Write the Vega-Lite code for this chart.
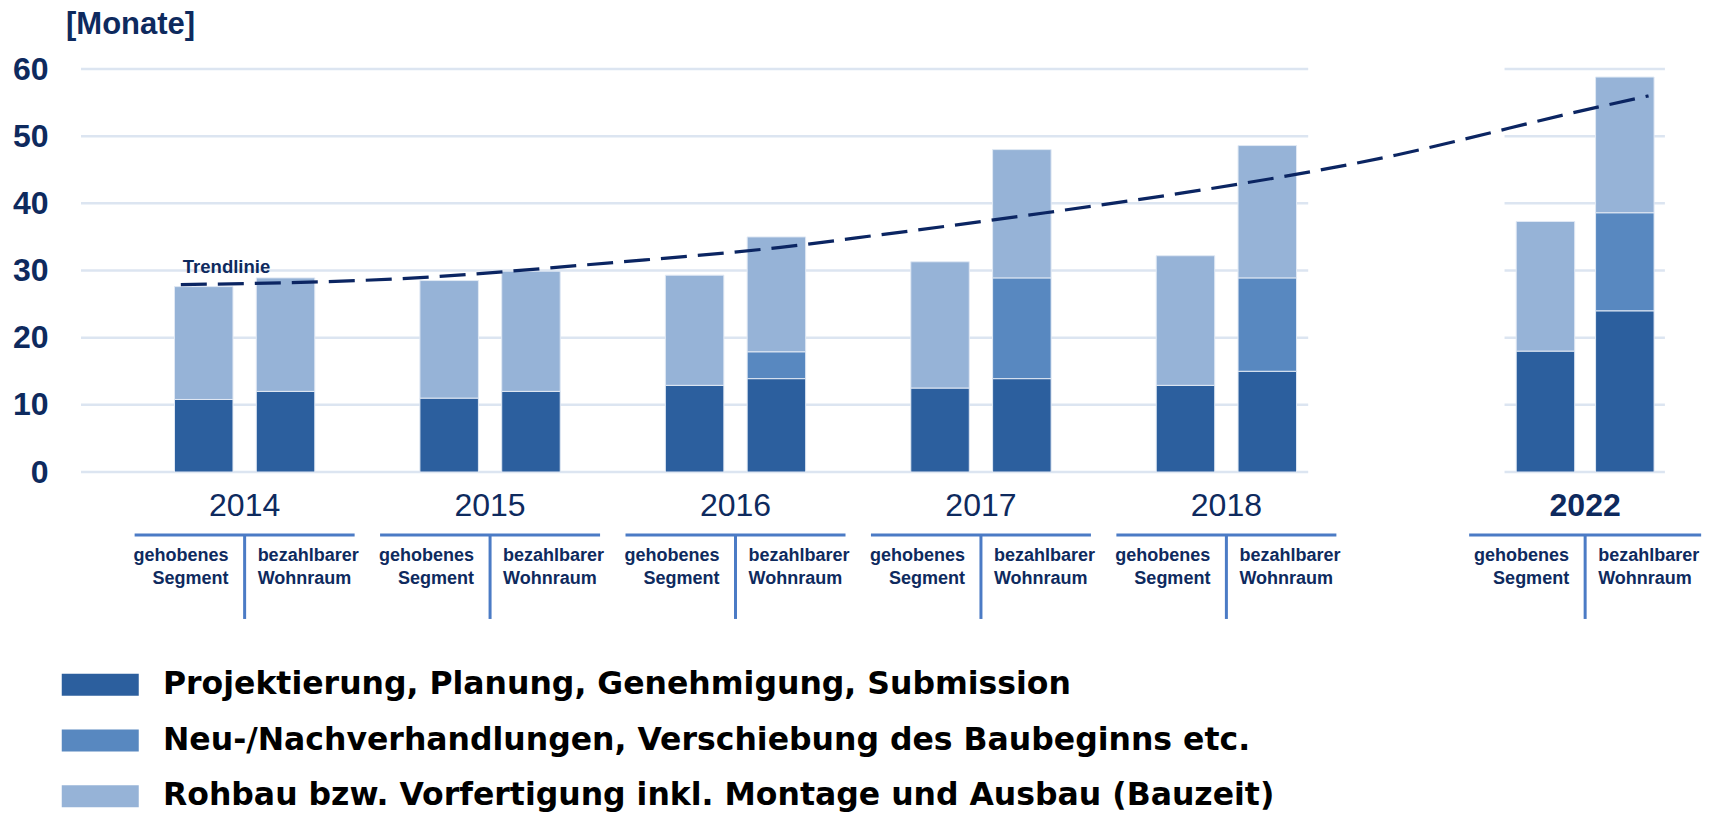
{
  "$schema": "https://vega.github.io/schema/vega-lite/v6.json",
  "width": 1634,
  "height": 403,
  "autosize": {"type": "none"},
  "padding": {"left": 76, "top": 69, "right": 1, "bottom": 341},
  "background": "white",
  "config": {"view": {"stroke": null}, "font": "Liberation Sans"},
  "datasets": {
    "balken": [
      {"jahr": "2014", "segment": "gehobenes Segment", "pos": 0, "phase": "Projektierung, Planung, Genehmigung, Submission", "monate": 10.8},
      {"jahr": "2014", "segment": "gehobenes Segment", "pos": 0, "phase": "Rohbau bzw. Vorfertigung inkl. Montage und Ausbau (Bauzeit)", "monate": 16.8},
      {"jahr": "2014", "segment": "bezahlbarer Wohnraum", "pos": 1, "phase": "Projektierung, Planung, Genehmigung, Submission", "monate": 12},
      {"jahr": "2014", "segment": "bezahlbarer Wohnraum", "pos": 1, "phase": "Rohbau bzw. Vorfertigung inkl. Montage und Ausbau (Bauzeit)", "monate": 16.9},
      {"jahr": "2015", "segment": "gehobenes Segment", "pos": 3, "phase": "Projektierung, Planung, Genehmigung, Submission", "monate": 11},
      {"jahr": "2015", "segment": "gehobenes Segment", "pos": 3, "phase": "Rohbau bzw. Vorfertigung inkl. Montage und Ausbau (Bauzeit)", "monate": 17.5},
      {"jahr": "2015", "segment": "bezahlbarer Wohnraum", "pos": 4, "phase": "Projektierung, Planung, Genehmigung, Submission", "monate": 12},
      {"jahr": "2015", "segment": "bezahlbarer Wohnraum", "pos": 4, "phase": "Rohbau bzw. Vorfertigung inkl. Montage und Ausbau (Bauzeit)", "monate": 17.9},
      {"jahr": "2016", "segment": "gehobenes Segment", "pos": 6, "phase": "Projektierung, Planung, Genehmigung, Submission", "monate": 12.9},
      {"jahr": "2016", "segment": "gehobenes Segment", "pos": 6, "phase": "Rohbau bzw. Vorfertigung inkl. Montage und Ausbau (Bauzeit)", "monate": 16.4},
      {"jahr": "2016", "segment": "bezahlbarer Wohnraum", "pos": 7, "phase": "Projektierung, Planung, Genehmigung, Submission", "monate": 13.9},
      {"jahr": "2016", "segment": "bezahlbarer Wohnraum", "pos": 7, "phase": "Neu-/Nachverhandlungen, Verschiebung des Baubeginns etc.", "monate": 4.0},
      {"jahr": "2016", "segment": "bezahlbarer Wohnraum", "pos": 7, "phase": "Rohbau bzw. Vorfertigung inkl. Montage und Ausbau (Bauzeit)", "monate": 17.1},
      {"jahr": "2017", "segment": "gehobenes Segment", "pos": 9, "phase": "Projektierung, Planung, Genehmigung, Submission", "monate": 12.5},
      {"jahr": "2017", "segment": "gehobenes Segment", "pos": 9, "phase": "Rohbau bzw. Vorfertigung inkl. Montage und Ausbau (Bauzeit)", "monate": 18.8},
      {"jahr": "2017", "segment": "bezahlbarer Wohnraum", "pos": 10, "phase": "Projektierung, Planung, Genehmigung, Submission", "monate": 13.9},
      {"jahr": "2017", "segment": "bezahlbarer Wohnraum", "pos": 10, "phase": "Neu-/Nachverhandlungen, Verschiebung des Baubeginns etc.", "monate": 15.0},
      {"jahr": "2017", "segment": "bezahlbarer Wohnraum", "pos": 10, "phase": "Rohbau bzw. Vorfertigung inkl. Montage und Ausbau (Bauzeit)", "monate": 19.1},
      {"jahr": "2018", "segment": "gehobenes Segment", "pos": 12, "phase": "Projektierung, Planung, Genehmigung, Submission", "monate": 12.9},
      {"jahr": "2018", "segment": "gehobenes Segment", "pos": 12, "phase": "Rohbau bzw. Vorfertigung inkl. Montage und Ausbau (Bauzeit)", "monate": 19.3},
      {"jahr": "2018", "segment": "bezahlbarer Wohnraum", "pos": 13, "phase": "Projektierung, Planung, Genehmigung, Submission", "monate": 15.0},
      {"jahr": "2018", "segment": "bezahlbarer Wohnraum", "pos": 13, "phase": "Neu-/Nachverhandlungen, Verschiebung des Baubeginns etc.", "monate": 13.9},
      {"jahr": "2018", "segment": "bezahlbarer Wohnraum", "pos": 13, "phase": "Rohbau bzw. Vorfertigung inkl. Montage und Ausbau (Bauzeit)", "monate": 19.7},
      {"jahr": "2022", "segment": "gehobenes Segment", "pos": 16.4, "phase": "Projektierung, Planung, Genehmigung, Submission", "monate": 18.0},
      {"jahr": "2022", "segment": "gehobenes Segment", "pos": 16.4, "phase": "Rohbau bzw. Vorfertigung inkl. Montage und Ausbau (Bauzeit)", "monate": 19.3},
      {"jahr": "2022", "segment": "bezahlbarer Wohnraum", "pos": 17.37, "phase": "Projektierung, Planung, Genehmigung, Submission", "monate": 24.0},
      {"jahr": "2022", "segment": "bezahlbarer Wohnraum", "pos": 17.37, "phase": "Neu-/Nachverhandlungen, Verschiebung des Baubeginns etc.", "monate": 14.6},
      {"jahr": "2022", "segment": "bezahlbarer Wohnraum", "pos": 17.37, "phase": "Rohbau bzw. Vorfertigung inkl. Montage und Ausbau (Bauzeit)", "monate": 20.2}
    ],
    "trend": [
      {"pos": -0.28, "monate": 27.9},
      {"pos": 2.43, "monate": 28.8},
      {"pos": 5.02, "monate": 31.2},
      {"pos": 7.05, "monate": 33.45},
      {"pos": 8.26, "monate": 35.3},
      {"pos": 10.29, "monate": 38.6},
      {"pos": 12.31, "monate": 42.2},
      {"pos": 13.75, "monate": 45.2},
      {"pos": 14.58, "monate": 47.2},
      {"pos": 15.39, "monate": 49.5},
      {"pos": 16.6, "monate": 53.1},
      {"pos": 17.66, "monate": 56.0}
    ],
    "jahre": [
      {"jahr": "2014", "mitte": 0.5},
      {"jahr": "2015", "mitte": 3.5},
      {"jahr": "2016", "mitte": 6.5},
      {"jahr": "2017", "mitte": 9.5},
      {"jahr": "2018", "mitte": 12.5},
      {"jahr": "2022", "mitte": 16.885}
    ],
    "gitter": [
      {"wert": 0}, {"wert": 10}, {"wert": 20}, {"wert": 30}, {"wert": 40}, {"wert": 50}, {"wert": 60}
    ]
  },
  "layer": [
    {
      "data": {"name": "gitter"},
      "mark": {"type": "rule", "color": "#DCE5F1", "strokeWidth": 2.5},
      "encoding": {
        "x": {"datum": -1.5, "type": "quantitative", "scale": {"domain": [-1.5, 18.35], "nice": false, "zero": false}, "axis": null},
        "x2": {"datum": 13.5},
        "y": {
          "field": "wert", "type": "quantitative",
          "scale": {"domain": [0, 60], "nice": false},
          "axis": {
            "values": [0, 10, 20, 30, 40, 50, 60],
            "grid": false, "ticks": false, "domain": false,
            "labelFont": "Liberation Sans", "labelFontSize": 32, "labelFontWeight": "bold",
            "labelColor": "#0E2A5E", "labelPadding": 28, "labelFlush": false,
            "title": "[Monate]", "titleAngle": 0, "titleAlign": "left", "titleBaseline": "alphabetic",
            "titleX": -10.5, "titleY": -35.5, "titleFont": "Liberation Sans", "titleFontSize": 31,
            "titleFontWeight": "bold", "titleColor": "#0E2A5E"
          }
        }
      }
    },
    {
      "data": {"name": "gitter"},
      "mark": {"type": "rule", "color": "#DCE5F1", "strokeWidth": 2.5},
      "encoding": {
        "x": {"datum": 15.9, "type": "quantitative", "scale": {"domain": [-1.5, 18.35], "nice": false, "zero": false}, "axis": null},
        "x2": {"datum": 17.86},
        "y": {"field": "wert", "type": "quantitative", "scale": {"domain": [0, 60], "nice": false}}
      }
    },
    {
      "data": {"name": "balken"},
      "transform": [
        {"calculate": "indexof(['Projektierung, Planung, Genehmigung, Submission', 'Neu-/Nachverhandlungen, Verschiebung des Baubeginns etc.', 'Rohbau bzw. Vorfertigung inkl. Montage und Ausbau (Bauzeit)'], datum.phase)", "as": "rang"}
      ],
      "mark": {"type": "bar", "width": 58.5, "orient": "vertical", "stroke": "#E1E9F4", "strokeWidth": 1},
      "encoding": {
        "x": {"field": "pos", "type": "quantitative", "scale": {"domain": [-1.5, 18.35], "nice": false, "zero": false}, "axis": null},
        "y": {
          "field": "monate", "type": "quantitative", "stack": "zero",
          "scale": {"domain": [0, 60], "nice": false}
        },
        "color": {
          "field": "phase", "type": "nominal",
          "scale": {
            "domain": ["Projektierung, Planung, Genehmigung, Submission", "Neu-/Nachverhandlungen, Verschiebung des Baubeginns etc.", "Rohbau bzw. Vorfertigung inkl. Montage und Ausbau (Bauzeit)"],
            "range": ["#2C5F9E", "#5888C0", "#96B3D7"]
          },
          "legend": {
            "orient": "none", "legendX": 8.5, "legendY": 600, "title": null, "padding": 0,
            "symbolType": "M-3.5,-1L3.5,-1L3.5,1L-3.5,1Z", "symbolSize": 484, "symbolStrokeWidth": 0,
            "labelFont": "DejaVu Sans", "labelFontSize": 31.5, "labelFontWeight": "bold", "labelColor": "#000000",
            "labelOffset": 47, "labelLimit": 3000, "rowPadding": 22.8
          }
        },
        "order": {"field": "rang", "type": "quantitative"}
      }
    },
    {
      "data": {"name": "trend"},
      "mark": {"type": "line", "interpolate": "monotone", "color": "#0B2562", "strokeWidth": 3.2, "strokeDash": [26, 11]},
      "encoding": {
        "x": {"field": "pos", "type": "quantitative", "scale": {"domain": [-1.5, 18.35], "nice": false, "zero": false}, "axis": null},
        "y": {"field": "monate", "type": "quantitative", "scale": {"domain": [0, 60], "nice": false}}
      }
    },
    {
      "data": {"name": "trend"},
      "transform": [{"filter": "datum.pos < 0"}],
      "mark": {"type": "text", "text": "Trendlinie", "align": "left", "baseline": "alphabetic", "dx": 2, "dy": -12, "font": "Liberation Sans", "fontSize": 18.5, "fontWeight": "bold", "color": "#0E2A5E"},
      "encoding": {
        "x": {"field": "pos", "type": "quantitative", "scale": {"domain": [-1.5, 18.35], "nice": false, "zero": false}, "axis": null},
        "y": {"field": "monate", "type": "quantitative", "scale": {"domain": [0, 60], "nice": false}}
      }
    },
    {
      "data": {"name": "jahre"},
      "transform": [{"filter": "datum.jahr != '2022'"}],
      "mark": {"type": "text", "align": "center", "baseline": "alphabetic", "dy": 44, "font": "Liberation Sans", "fontSize": 32, "fontWeight": "normal", "color": "#0E2A5E"},
      "encoding": {
        "x": {"field": "mitte", "type": "quantitative", "scale": {"domain": [-1.5, 18.35], "nice": false, "zero": false}, "axis": null},
        "y": {"datum": 0, "type": "quantitative", "scale": {"domain": [0, 60], "nice": false}},
        "text": {"field": "jahr"}
      }
    },
    {
      "data": {"name": "jahre"},
      "transform": [{"filter": "datum.jahr == '2022'"}],
      "mark": {"type": "text", "align": "center", "baseline": "alphabetic", "dy": 44, "font": "Liberation Sans", "fontSize": 32, "fontWeight": "bold", "color": "#0E2A5E"},
      "encoding": {
        "x": {"field": "mitte", "type": "quantitative", "scale": {"domain": [-1.5, 18.35], "nice": false, "zero": false}, "axis": null},
        "y": {"datum": 0, "type": "quantitative", "scale": {"domain": [0, 60], "nice": false}},
        "text": {"field": "jahr"}
      }
    },
    {
      "data": {"name": "jahre"},
      "transform": [{"filter": "datum.jahr != '2022'"}],
      "mark": {"type": "tick", "orient": "horizontal", "size": 220, "thickness": 3, "color": "#4B7BC5", "opacity": 1},
      "encoding": {
        "x": {"field": "mitte", "type": "quantitative", "scale": {"domain": [-1.5, 18.35], "nice": false, "zero": false}, "axis": null},
        "y": {"datum": -9.38, "type": "quantitative", "scale": {"domain": [0, 60], "nice": false}}
      }
    },
    {
      "data": {"name": "jahre"},
      "transform": [{"filter": "datum.jahr == '2022'"}],
      "mark": {"type": "tick", "orient": "horizontal", "size": 232, "thickness": 3, "color": "#4B7BC5", "opacity": 1},
      "encoding": {
        "x": {"field": "mitte", "type": "quantitative", "scale": {"domain": [-1.5, 18.35], "nice": false, "zero": false}, "axis": null},
        "y": {"datum": -9.38, "type": "quantitative", "scale": {"domain": [0, 60], "nice": false}}
      }
    },
    {
      "data": {"name": "jahre"},
      "mark": {"type": "rule", "color": "#4B7BC5", "strokeWidth": 3},
      "encoding": {
        "x": {"field": "mitte", "type": "quantitative", "scale": {"domain": [-1.5, 18.35], "nice": false, "zero": false}, "axis": null},
        "y": {"datum": -9.38, "type": "quantitative", "scale": {"domain": [0, 60], "nice": false}},
        "y2": {"datum": -21.88}
      }
    },
    {
      "data": {"name": "jahre"},
      "mark": {"type": "text", "text": ["gehobenes", "Segment"], "align": "right", "baseline": "alphabetic", "dx": -16, "dy": 89, "lineHeight": 23, "font": "Liberation Sans", "fontSize": 18, "fontWeight": "bold", "color": "#0E2A5E"},
      "encoding": {
        "x": {"field": "mitte", "type": "quantitative", "scale": {"domain": [-1.5, 18.35], "nice": false, "zero": false}, "axis": null},
        "y": {"datum": 0, "type": "quantitative", "scale": {"domain": [0, 60], "nice": false}}
      }
    },
    {
      "data": {"name": "jahre"},
      "mark": {"type": "text", "text": ["bezahlbarer", "Wohnraum"], "align": "left", "baseline": "alphabetic", "dx": 13, "dy": 89, "lineHeight": 23, "font": "Liberation Sans", "fontSize": 18, "fontWeight": "bold", "color": "#0E2A5E"},
      "encoding": {
        "x": {"field": "mitte", "type": "quantitative", "scale": {"domain": [-1.5, 18.35], "nice": false, "zero": false}, "axis": null},
        "y": {"datum": 0, "type": "quantitative", "scale": {"domain": [0, 60], "nice": false}}
      }
    }
  ]
}
